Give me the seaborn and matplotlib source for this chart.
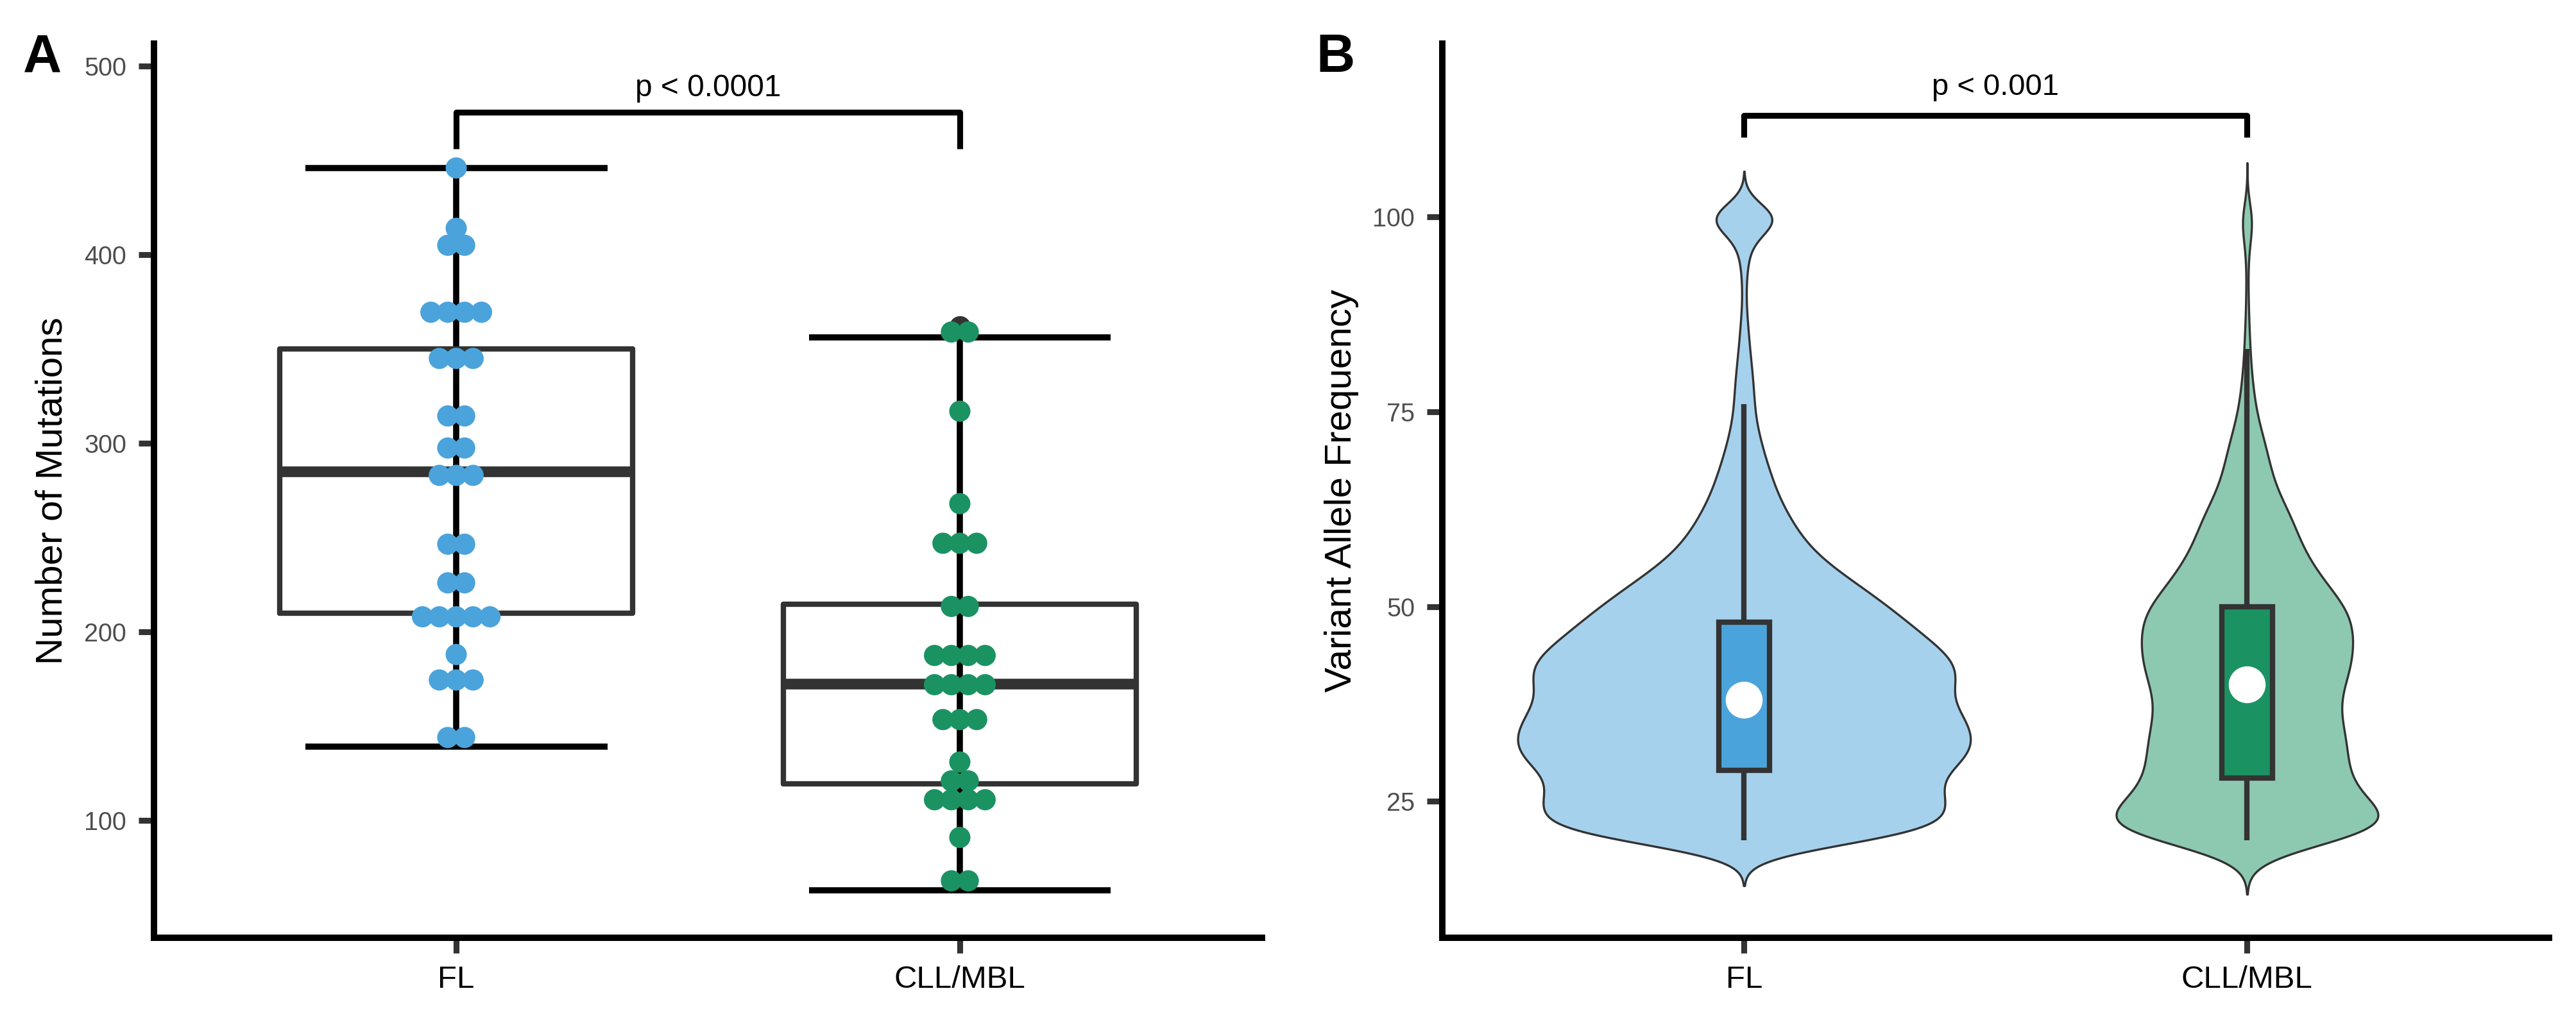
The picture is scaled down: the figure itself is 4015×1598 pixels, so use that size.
import numpy as np
import pandas as pd
import matplotlib.pyplot as plt
import seaborn as sns
from matplotlib.cbook import boxplot_stats

groups = ['FL', 'CLL/MBL']

# Panel A: number of mutations per patient
fl_mutations = [139, 149, 170, 174, 179, 188, 204, 206, 210, 211, 212, 222, 230,
                243, 250, 279, 285, 287, 294, 301, 311, 318, 340, 344, 350, 365,
                368, 371, 374, 401, 409, 414, 446]
cll_mutations = [63, 73, 91, 107, 110, 112, 115, 118, 124, 131, 149, 154, 158,
                 168, 171, 174, 176, 183, 186, 189, 192, 211, 216, 243, 247, 251,
                 268, 317, 356, 362]

# Panel B: number of variants at each VAF (%) level
vaf_levels = list(range(20, 101))
fl_vaf_counts = [316, 316, 318, 318, 316, 330, 314, 299, 302, 322,   # 20-29
                 348, 359, 363, 364, 358, 353, 345, 336, 321, 322,   # 30-39
                 332, 340, 339, 334, 322, 302, 287, 272, 258, 243,   # 40-49
                 227, 211, 194, 176, 157, 140, 124, 110, 99, 90,     # 50-59
                 82, 75, 68, 61, 55, 50, 46, 42, 38, 34,             # 60-69
                 30, 27, 24, 21, 18, 17, 16, 16, 15, 14,             # 70-79
                 13, 12, 10, 9, 8, 7, 6, 5, 4, 3,                    # 80-89
                 3, 3, 4, 4, 6, 8, 10, 12, 16, 40,                   # 90-99
                 160]                                                # 100
cll_vaf_counts = [225, 250, 252, 235, 205, 188, 175, 166, 160, 158,  # 20-29
                  158, 158, 158, 156, 153, 150, 146, 143, 143, 148,  # 30-39
                  154, 159, 162, 166, 167, 167, 167, 167, 166, 164,  # 40-49
                  158, 146, 132, 122, 115, 106, 97, 90, 84, 80,      # 50-59
                  77, 73, 67, 60, 52, 46, 42, 38, 36, 34,            # 60-69
                  32, 28, 24, 21, 17, 14, 12, 11, 10, 8,             # 70-79
                  7, 6, 5, 5, 4, 4, 3, 3, 2, 2,                      # 80-89
                  2, 2, 1, 1, 2, 2, 3, 4, 6, 10,                     # 90-99
                  22]                                                # 100

p_text_a = 'p < 0.0001'
p_text_b = 'p < 0.001'

dark = {'FL': '#4BA3DB', 'CLL/MBL': '#1B9262'}
light = {'FL': '#A5D1ED', 'CLL/MBL': '#8DC9B0'}
line_grey = '#333333'


def dot_bins(values, binwidth):
    # dot-density binning (as in ggplot geom_dotplot)
    bins = []
    end = -np.inf
    for v in np.sort(values):
        if v >= end:
            bins.append([v])
            end = v + binwidth
        else:
            bins[-1].append(v)
    return [((b[0] + b[-1]) / 2, len(b)) for b in bins]


def nrd0(kde):
    # R's default bandwidth rule
    x = kde.dataset[0]
    sd = x.std(ddof=1)
    q75, q25 = np.percentile(x, [75, 25])
    return 0.9 * min(sd, (q75 - q25) / 1.34) * x.size ** -0.2 / sd


sns.set_style('ticks')
plt.rcParams['font.family'] = ['Liberation Sans', 'DejaVu Sans']
plt.rcParams['text.color'] = 'black'
plt.rcParams['axes.labelcolor'] = 'black'

fig = plt.figure(figsize=(4015 / 300, 1598 / 300), dpi=300)
ax_a = fig.add_axes([0.0598, 0.0851, 0.4301, 0.8723])
ax_b = fig.add_axes([0.5599, 0.0851, 0.4296, 0.8723])

# ---- Panel A: boxplot + dotplot
df_a = pd.DataFrame({'group': ['FL'] * len(fl_mutations) + ['CLL/MBL'] * len(cll_mutations),
                     'mutations': fl_mutations + cll_mutations})

sns.boxplot(data=df_a, x='group', y='mutations', order=groups, ax=ax_a,
            width=0.7, fill=False, color=line_grey, linewidth=2.0, saturation=1,
            medianprops={'linewidth': 4.0},
            whiskerprops={'visible': False}, capprops={'visible': False},
            flierprops={'marker': 'o', 'markerfacecolor': line_grey,
                        'markeredgecolor': line_grey, 'markersize': 7})

for i, g in enumerate(groups):
    vals = df_a.loc[df_a['group'] == g, 'mutations'].to_numpy()
    st = boxplot_stats(vals)[0]
    ax_a.vlines(i, st['whislo'], st['whishi'], color='black', lw=2.3, zorder=1.5)
    ax_a.hlines([st['whislo'], st['whishi']], i - 0.3, i + 0.3, color='black', lw=2.3, zorder=1.5)
    for center, n in dot_bins(vals, 11):
        xs = i + (np.arange(n) - (n - 1) / 2) * 0.0335
        ax_a.scatter(xs, [center] * n, s=63, color=dark[g], edgecolors='none', zorder=3)

ax_a.plot([0, 0, 1, 1], [456, 475.5, 475.5, 456], color='black', lw=2.2, solid_capstyle='butt')
ax_a.text(0.5, 484, p_text_a, ha='center', va='baseline', fontsize=11.5)
ax_a.set_ylim(37.8, 511.9)
ax_a.set_yticks([100, 200, 300, 400, 500])
ax_a.set_ylabel('Number of Mutations', fontsize=14)
ax_a.yaxis.set_label_coords(-0.0764, 0.5)

# ---- Panel B: violin + narrow boxplot + median point
df_b = pd.DataFrame({
    'group': np.repeat(groups, [sum(fl_vaf_counts), sum(cll_vaf_counts)]),
    'vaf': np.concatenate([np.repeat(vaf_levels, fl_vaf_counts),
                           np.repeat(vaf_levels, cll_vaf_counts)]),
})

sns.violinplot(data=df_b, x='group', y='vaf', hue='group', order=groups, hue_order=groups,
               palette=light, inner=None, cut=3, bw_method=nrd0, gridsize=400,
               density_norm='count', common_norm=True, width=0.9,
               linewidth=0.8, linecolor=line_grey, saturation=1, legend=False, ax=ax_b)
sns.boxplot(data=df_b, x='group', y='vaf', hue='group', order=groups, hue_order=groups,
            palette=dark, width=0.1, showfliers=False, linecolor=line_grey, linewidth=2.0,
            saturation=1, capprops={'visible': False}, medianprops={'visible': False},
            legend=False, ax=ax_b)
sns.pointplot(data=df_b, x='group', y='vaf', order=groups, estimator='median', errorbar=None,
              color='white', markers='o', linestyle='none', markersize=13.8,
              markeredgewidth=0, zorder=10, ax=ax_b)

ax_b.plot([0, 0, 1, 1], [110.2, 113, 113, 110.2], color='black', lw=2.2, solid_capstyle='butt')
ax_b.text(0.5, 115.6, p_text_b, ha='center', va='baseline', fontsize=11.3)
ax_b.set_ylim(7.5, 122.2)
ax_b.set_yticks([25, 50, 75, 100])
ax_b.set_ylabel('Variant Allele Frequency', fontsize=14)
ax_b.yaxis.set_label_coords(-0.0754, 0.5)

for ax in (ax_a, ax_b):
    ax.set_xlim(-0.6, 1.6)
    ax.set_xlabel('')
    ax.spines[['top', 'right']].set_visible(False)
    for s in ('left', 'bottom'):
        ax.spines[s].set_linewidth(2.4)
        ax.spines[s].set_color('black')
    ax.tick_params(length=5.8, width=2.2, color=line_grey, pad=4.5)
    ax.tick_params(axis='y', labelsize=9.5, labelcolor='#4D4D4D')
    ax.tick_params(axis='x', labelsize=11.8, labelcolor='black')

fig.text(36 / 4015, 1 - 113 / 1598, 'A', fontsize=20, fontweight='bold', ha='left', va='baseline')
fig.text(2051 / 4015, 1 - 112 / 1598, 'B', fontsize=20, fontweight='bold', ha='left', va='baseline')

fig.savefig('out.png', dpi=300)
